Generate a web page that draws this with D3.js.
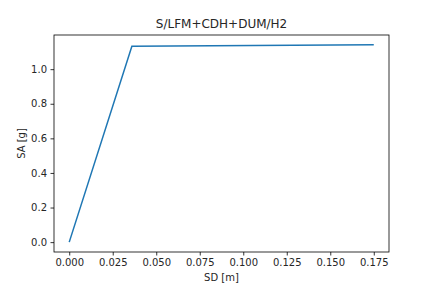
<!DOCTYPE html>
<html>
<head>
<meta charset="utf-8">
<script src="https://cdn.jsdelivr.net/npm/d3@7"></script>
<style>
  body { margin: 0; background: #fff; }
  text { font-family: "DejaVu Sans", sans-serif; fill: #262626; }
</style>
</head>
<body>
<div id="plot"></div>
<script>
// chart data
const SD = [0.0, 0.036, 0.175];
const SA = [0.0, 1.132, 1.1405];
const X_TICKS = [0.0, 0.025, 0.05, 0.075, 0.1, 0.125, 0.15, 0.175];
const Y_TICKS = [0.0, 0.2, 0.4, 0.6, 0.8, 1.0];
const TITLE = "S/LFM+CDH+DUM/H2";

const FRAME_WIDTH = 432;
const FRAME_HEIGHT = 288;
const MARGINS = {left: 54, right: 43, top: 35, bottom: 36};
const VIS_WIDTH = FRAME_WIDTH - MARGINS.left - MARGINS.right;
const VIS_HEIGHT = FRAME_HEIGHT - MARGINS.top - MARGINS.bottom;

const FRAME = d3.select("#plot")
  .append("svg")
  .attr("width", FRAME_WIDTH)
  .attr("height", FRAME_HEIGHT);

// matplotlib style 5% padding
const xMin = d3.min(SD), xMax = d3.max(SD);
const yMin = d3.min(SA), yMax = d3.max(SA);
const xPad = (xMax - xMin) * 0.05, yPad = (yMax - yMin) * 0.05;

const X_SCALE = d3.scaleLinear()
  .domain([xMin - xPad, xMax + xPad])
  .range([0, VIS_WIDTH]);
const Y_SCALE = d3.scaleLinear()
  .domain([yMin - yPad, yMax + yPad])
  .range([VIS_HEIGHT, 0]);

const G = FRAME.append("g")
  .attr("transform", "translate(" + MARGINS.left + "," + MARGINS.top + ")");

// axes
const xAxis = G.append("g")
  .attr("transform", "translate(0," + VIS_HEIGHT + ")")
  .call(d3.axisBottom(X_SCALE).tickValues(X_TICKS).tickFormat(d3.format(".3f")).tickSizeOuter(0).tickSize(3.5).tickPadding(3.5));
const yAxis = G.append("g")
  .call(d3.axisLeft(Y_SCALE).tickValues(Y_TICKS).tickFormat(d3.format(".1f")).tickSizeOuter(0).tickSize(3.5).tickPadding(3.5));

[xAxis, yAxis].forEach((a) => {
  a.select(".domain").remove();
  a.selectAll("line").attr("stroke", "#000").attr("stroke-width", 0.8);
  a.selectAll("text").attr("font-size", "10px").attr("font-family", "DejaVu Sans").attr("fill", "#262626");
});

// frame
G.append("rect")
  .attr("x", 0).attr("y", 0)
  .attr("width", VIS_WIDTH).attr("height", VIS_HEIGHT)
  .attr("fill", "none").attr("stroke", "#000").attr("stroke-width", 0.8);

// line
const POINTS = SD.map((d, i) => [d, SA[i]]);
G.append("path")
  .datum(POINTS)
  .attr("fill", "none")
  .attr("stroke", "#1f77b4")
  .attr("stroke-width", 1.5)
  .attr("d", d3.line().x((d) => X_SCALE(d[0])).y((d) => Y_SCALE(d[1])));

// labels
FRAME.append("text")
  .attr("x", MARGINS.left + VIS_WIDTH / 2)
  .attr("y", MARGINS.top - 7)
  .attr("text-anchor", "middle")
  .attr("font-size", "12px")
  .text(TITLE);

FRAME.append("text")
  .attr("x", MARGINS.left + VIS_WIDTH / 2)
  .attr("y", FRAME_HEIGHT - 7)
  .attr("text-anchor", "middle")
  .attr("font-size", "10px")
  .text("SD [m]");

FRAME.append("text")
  .attr("transform", "translate(25," + (MARGINS.top + VIS_HEIGHT / 2) + ") rotate(-90)")
  .attr("text-anchor", "middle")
  .attr("font-size", "10px")
  .text("SA [g]");
</script>
</body>
</html>
